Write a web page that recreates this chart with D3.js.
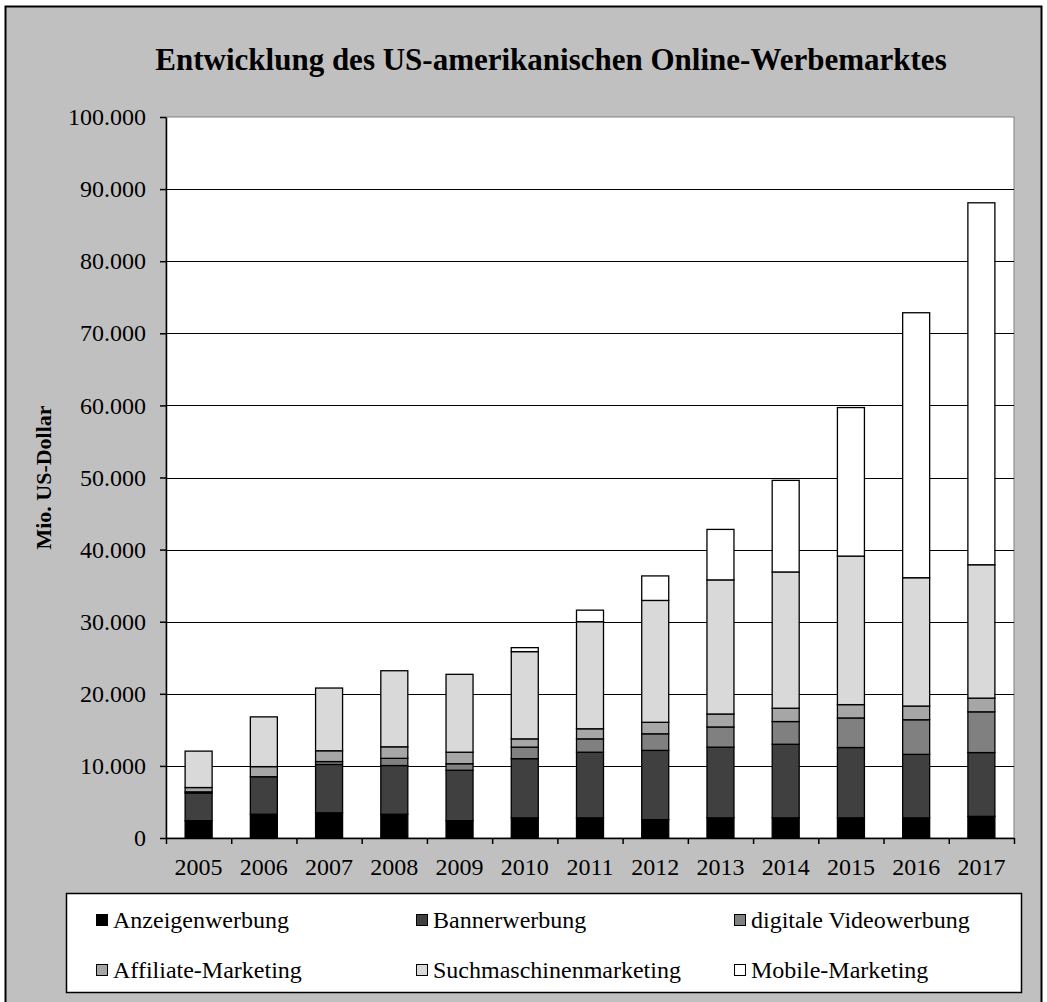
<!DOCTYPE html>
<html>
<head>
<meta charset="utf-8">
<script src="https://cdn.jsdelivr.net/npm/d3@7"></script>
<style>
  body { margin: 0; background: #fff; }
  svg { display: block; }
  text { font-family: "Liberation Serif", "Times New Roman", serif; fill: #000; }
</style>
</head>
<body>
<div id="chart"></div>
<script>
// Mio. US-Dollar
var years = ["2005", "2006", "2007", "2008", "2009", "2010", "2011", "2012", "2013", "2014", "2015", "2016", "2017"];
var anzeigen  = [2400, 3300, 3500, 3300, 2400, 2800, 2800, 2550, 2800, 2800, 2800, 2800, 3000];
var banner    = [3850, 5200, 6700, 6750, 7000, 8200, 9100, 9600, 9800, 10200, 9750, 8800, 8850];
var video     = [150, 0, 400, 1000, 900, 1600, 1850, 2300, 2800, 3150, 4100, 4800, 5650];
var affiliate = [600, 1400, 1500, 1600, 1600, 1150, 1400, 1600, 1800, 1850, 1850, 1900, 1900];
var suche     = [5050, 6900, 8700, 10550, 10800, 12100, 14850, 16900, 18600, 18900, 20600, 17800, 18500];
var mobile    = [0, 0, 0, 0, 0, 550, 1600, 3400, 7000, 12700, 20600, 36750, 50200];

var seriesNames = ["Anzeigenwerbung", "Bannerwerbung", "digitale Videowerbung",
                   "Affiliate-Marketing", "Suchmaschinenmarketing", "Mobile-Marketing"];
var seriesColors = ["#000000", "#404040", "#808080", "#a6a6a6", "#d9d9d9", "#ffffff"];
var yTicks = [0, 10000, 20000, 30000, 40000, 50000, 60000, 70000, 80000, 90000, 100000];

var width = 1047, height = 1002;
var plot = {left: 166, right: 1014, top: 117, bottom: 838};

// table for d3.stack
var table = years.map(function(y, i) {
  return {year: y,
    "Anzeigenwerbung": anzeigen[i], "Bannerwerbung": banner[i], "digitale Videowerbung": video[i],
    "Affiliate-Marketing": affiliate[i], "Suchmaschinenmarketing": suche[i], "Mobile-Marketing": mobile[i]};
});

var de = d3.formatLocale({decimal: ",", thousands: ".", grouping: [3], currency: ["", " €"]});
var fmt = de.format(",d");

var svg = d3.select("#chart").append("svg")
  .attr("width", width)
  .attr("height", height);

// chart area frame
svg.append("rect")
  .attr("x", 5.5).attr("y", 6.5)
  .attr("width", 1036).attr("height", 1010)
  .attr("fill", "#c0c0c0")
  .attr("stroke", "#000").attr("stroke-width", 2);

svg.append("text")
  .attr("x", 551).attr("y", 70)
  .attr("text-anchor", "middle")
  .style("font-size", "31px").style("font-weight", "bold")
  .text("Entwicklung des US-amerikanischen Online-Werbemarktes");

var x = d3.scaleBand().domain(years)
  .range([plot.left, plot.right])
  .paddingInner(0.586).paddingOuter(0.293);
var y = d3.scaleLinear().domain([0, 100000]).range([plot.bottom, plot.top]);

// plot area
svg.append("rect")
  .attr("x", plot.left).attr("y", plot.top)
  .attr("width", plot.right - plot.left).attr("height", plot.bottom - plot.top)
  .attr("fill", "#fff")
  .attr("stroke", "#808080").attr("stroke-width", 1);

svg.append("g").selectAll("line").data(yTicks.slice(1, -1)).enter().append("line")
  .attr("x1", plot.left).attr("x2", plot.right)
  .attr("y1", function(d) { return Math.round(y(d)) + 0.5; })
  .attr("y2", function(d) { return Math.round(y(d)) + 0.5; })
  .attr("stroke", "#000").attr("stroke-width", 1);

var stack = d3.stack().keys(seriesNames);
var layers = stack(table);

svg.append("g").selectAll("g").data(layers).enter().append("g")
  .attr("fill", function(d, i) { return seriesColors[i]; })
  .selectAll("rect").data(function(d) { return d.filter(function(p) { return p[1] > p[0]; }); })
  .enter().append("rect")
  .attr("x", function(d) { return x(d.data.year); })
  .attr("width", x.bandwidth())
  .attr("y", function(d) { return y(d[1]); })
  .attr("height", function(d) { return y(d[0]) - y(d[1]); })
  .attr("stroke", "#000").attr("stroke-width", 1.3);

// y axis
var yAxis = svg.append("g")
  .attr("transform", "translate(" + plot.left + ",0)")
  .call(d3.axisLeft(y).tickValues(yTicks).tickFormat(fmt).tickSize(6).tickSizeOuter(0).tickPadding(14));
yAxis.select(".domain").attr("stroke", "#000").attr("stroke-width", 1.5);
yAxis.selectAll(".tick line").attr("stroke", "#000").attr("stroke-width", 1.5);
yAxis.selectAll("text").style("font-size", "24px").attr("font-family", null);

// x axis: ticks between the categories, labels under each
var xEdges = d3.scaleLinear().domain([0, years.length]).range([plot.left, plot.right]);
var xTicks = svg.append("g")
  .attr("transform", "translate(0," + plot.bottom + ")")
  .call(d3.axisBottom(xEdges).ticks(years.length).tickFormat("").tickSize(6).tickSizeOuter(0));
xTicks.select(".domain").attr("stroke", "#000").attr("stroke-width", 1.5);
xTicks.selectAll(".tick line").attr("stroke", "#000").attr("stroke-width", 1.5);

var xAxis = svg.append("g")
  .attr("transform", "translate(0," + plot.bottom + ")")
  .call(d3.axisBottom(x).tickSize(0).tickPadding(20));
xAxis.select(".domain").remove();
xAxis.selectAll("text").style("font-size", "24px").attr("font-family", null);

svg.append("text")
  .attr("transform", "translate(51," + (plot.top + plot.bottom) / 2 + ") rotate(-90)")
  .attr("text-anchor", "middle")
  .style("font-size", "22px").style("font-weight", "bold")
  .text("Mio. US-Dollar");

// legend
var legend = svg.append("g");
legend.append("rect")
  .attr("x", 66.5).attr("y", 893.5)
  .attr("width", 955).attr("height", 99)
  .attr("fill", "#fff")
  .attr("stroke", "#000").attr("stroke-width", 1.5);

var legendX = [96, 416, 734];
var legendY = [920, 970];
var item = legend.selectAll("g.item").data(seriesNames).enter().append("g")
  .attr("class", "item")
  .attr("transform", function(d, i) {
    return "translate(" + legendX[i % 3] + "," + legendY[Math.floor(i / 3)] + ")";
  });
item.append("rect")
  .attr("x", 0.5).attr("y", -5.5)
  .attr("width", 11).attr("height", 11)
  .attr("fill", function(d, i) { return seriesColors[i]; })
  .attr("stroke", "#000").attr("stroke-width", 1);
item.append("text")
  .attr("x", 17).attr("y", 8)
  .style("font-size", "24px")
  .text(function(d) { return d; });
</script>
</body>
</html>
